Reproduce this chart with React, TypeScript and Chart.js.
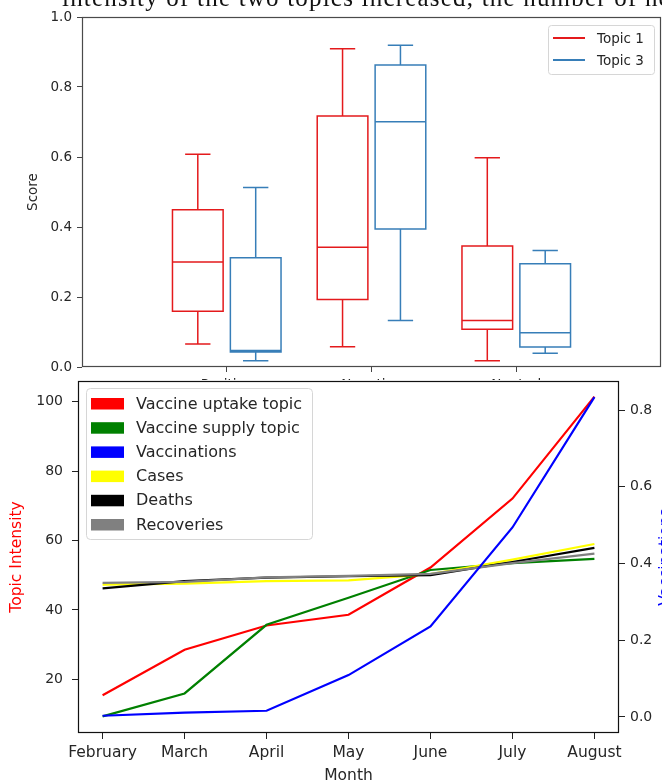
import React, { useEffect, useRef } from "react";
import { Chart, registerables } from "chart.js";

Chart.register(...registerables);

// ---- Box plot: topic scores per sentiment ----
const sentimentLabels = ["Positive", "Negative", "Neutral"];
const topic1Min = [0.066, 0.058, 0.018];
const topic1Q1 = [0.159, 0.193, 0.108];
const topic1Median = [0.3, 0.342, 0.133];
const topic1Q3 = [0.449, 0.717, 0.346];
const topic1Max = [0.608, 0.909, 0.598];
const topic3Min = [0.018, 0.133, 0.039];
const topic3Q1 = [0.043, 0.394, 0.057];
const topic3Median = [0.047, 0.701, 0.098];
const topic3Q3 = [0.312, 0.863, 0.295];
const topic3Max = [0.513, 0.919, 0.333];
const scoreTicks = [0, 0.2, 0.4, 0.6, 0.8, 1.0];

// ---- Line chart: monthly topic intensity vs. pandemic figures ----
const months = ["February", "March", "April", "May", "June", "July", "August"];
const vaccineUptakeTopic = [15.4, 28.5, 35.5, 38.6, 52.2, 72.1, 101.5];
const vaccineSupplyTopic = [9.3, 15.9, 35.7, 43.5, 51.5, 53.5, 54.7];
const vaccinations = [0.003, 0.011, 0.016, 0.109, 0.236, 0.494, 0.834];
const cases = [47.3, 47.6, 48.3, 48.5, 50.3, 54.5, 59.0];
const deaths = [46.2, 48.3, 49.3, 49.7, 50.0, 53.8, 57.9];
const recoveries = [47.8, 48.1, 49.4, 49.8, 50.4, 53.5, 56.2];
const intensityTicks = [20, 40, 60, 80, 100];
const vaccinationTicks = [0, 0.2, 0.4, 0.6, 0.8];

const FONT = "'DejaVu Sans', sans-serif";
const TEXT = "#262626";

const boxSeries = [
  { label: "Topic 1", color: "#e41a1c", offset: -0.2, min: topic1Min, q1: topic1Q1, med: topic1Median, q3: topic1Q3, max: topic1Max },
  { label: "Topic 3", color: "#377eb8", offset: 0.2, min: topic3Min, q1: topic3Q1, med: topic3Median, q3: topic3Q3, max: topic3Max },
];
const BOX_HALF = 0.175;

const lineSeries = [
  { label: "Vaccine uptake topic", color: "#ff0000", values: vaccineUptakeTopic, axis: "y", order: 5 },
  { label: "Vaccine supply topic", color: "#008000", values: vaccineSupplyTopic, axis: "y", order: 4 },
  { label: "Vaccinations", color: "#0000ff", values: vaccinations, axis: "y1", order: 0 },
  { label: "Cases", color: "#ffff00", values: cases, axis: "y", order: 3 },
  { label: "Deaths", color: "#000000", values: deaths, axis: "y", order: 2 },
  { label: "Recoveries", color: "#808080", values: recoveries, axis: "y", order: 1 },
];

// fixed axis sizes, without the extra room Chart.js reserves for edge labels
const fixSize = (size: { width?: number; height?: number }) => (s: any) => {
  if (size.width !== undefined) s.width = size.width;
  if (size.height !== undefined) s.height = size.height;
  s.paddingTop = 0;
  s.paddingBottom = 0;
  s.paddingLeft = 0;
  s.paddingRight = 0;
};

function roundRect(ctx: CanvasRenderingContext2D, x: number, y: number, w: number, h: number, r: number) {
  ctx.beginPath();
  ctx.moveTo(x + r, y);
  ctx.lineTo(x + w - r, y);
  ctx.quadraticCurveTo(x + w, y, x + w, y + r);
  ctx.lineTo(x + w, y + h - r);
  ctx.quadraticCurveTo(x + w, y + h, x + w - r, y + h);
  ctx.lineTo(x + r, y + h);
  ctx.quadraticCurveTo(x, y + h, x, y + h - r);
  ctx.lineTo(x, y + r);
  ctx.quadraticCurveTo(x, y, x + r, y);
  ctx.closePath();
}

const framePlugin = (color: string) => ({
  id: "frame",
  afterDraw(chart: any) {
    const { ctx, chartArea: a } = chart;
    ctx.save();
    ctx.strokeStyle = color;
    ctx.lineWidth = 1.2;
    ctx.strokeRect(Math.round(a.left) + 0.5, Math.round(a.top) + 0.5, Math.round(a.right - a.left) - 1, Math.round(a.bottom - a.top) - 1);
    ctx.restore();
  },
});

const boxPlugin = {
  id: "boxes",
  afterDatasetsDraw(chart: any) {
    const { ctx, scales } = chart;
    const x = scales.x;
    const y = scales.y;
    ctx.save();
    ctx.lineWidth = 1.5;
    boxSeries.forEach((s) => {
      ctx.strokeStyle = s.color;
      s.q1.forEach((_, i) => {
        const c = i + 1 + s.offset;
        const xl = x.getPixelForValue(c - BOX_HALF);
        const xr = x.getPixelForValue(c + BOX_HALF);
        const xc = x.getPixelForValue(c);
        const cl = x.getPixelForValue(c - BOX_HALF / 2);
        const cr = x.getPixelForValue(c + BOX_HALF / 2);
        const yMin = y.getPixelForValue(s.min[i]);
        const yQ1 = y.getPixelForValue(s.q1[i]);
        const yMed = y.getPixelForValue(s.med[i]);
        const yQ3 = y.getPixelForValue(s.q3[i]);
        const yMax = y.getPixelForValue(s.max[i]);
        ctx.beginPath();
        ctx.rect(xl, yQ3, xr - xl, yQ1 - yQ3);
        ctx.moveTo(xl, yMed);
        ctx.lineTo(xr, yMed);
        ctx.moveTo(xc, yQ3);
        ctx.lineTo(xc, yMax);
        ctx.moveTo(xc, yQ1);
        ctx.lineTo(xc, yMin);
        ctx.moveTo(cl, yMax);
        ctx.lineTo(cr, yMax);
        ctx.moveTo(cl, yMin);
        ctx.lineTo(cr, yMin);
        ctx.stroke();
      });
    });

    // legend, upper right
    const a = chart.chartArea;
    const lx = a.right - 113;
    const ly = a.top + 8;
    roundRect(ctx, lx + 0.5, ly + 0.5, 106, 49, 3);
    ctx.fillStyle = "rgba(255,255,255,0.85)";
    ctx.fill();
    ctx.strokeStyle = "#d6d6d6";
    ctx.lineWidth = 1;
    ctx.stroke();
    ctx.font = `13.5px ${FONT}`;
    ctx.textBaseline = "middle";
    ctx.textAlign = "left";
    boxSeries.forEach((s, k) => {
      const yy = ly + 13 + k * 22;
      ctx.strokeStyle = s.color;
      ctx.lineWidth = 2;
      ctx.beginPath();
      ctx.moveTo(lx + 5, yy);
      ctx.lineTo(lx + 37, yy);
      ctx.stroke();
      ctx.fillStyle = TEXT;
      ctx.fillText(s.label, lx + 49, yy + 1);
    });
    ctx.restore();
  },
};

const lineLegendPlugin = {
  id: "lineLegend",
  afterDraw(chart: any) {
    const { ctx, chartArea: a } = chart;
    ctx.save();
    const lx = a.left + 8;
    const ly = a.top + 7;
    roundRect(ctx, lx + 0.5, ly + 0.5, 226, 151, 4);
    ctx.fillStyle = "rgba(255,255,255,0.85)";
    ctx.fill();
    ctx.strokeStyle = "#d6d6d6";
    ctx.lineWidth = 1;
    ctx.stroke();
    ctx.font = `16px ${FONT}`;
    ctx.textBaseline = "middle";
    ctx.textAlign = "left";
    lineSeries.forEach((s, k) => {
      const yy = ly + 15.5 + k * 24.2;
      ctx.fillStyle = s.color;
      ctx.fillRect(lx + 5, yy - 5.5, 33, 11.5);
      ctx.fillStyle = TEXT;
      ctx.fillText(s.label, lx + 50, yy + 1);
    });

    // right-hand axis title
    const y1 = chart.scales.y1;
    ctx.translate(670, (y1.top + y1.bottom) / 2);
    ctx.rotate(-Math.PI / 2);
    ctx.textAlign = "center";
    ctx.textBaseline = "alphabetic";
    ctx.font = `15.5px ${FONT}`;
    ctx.fillStyle = "#0000ff";
    ctx.fillText("Vaccinations", 0, 0);
    ctx.restore();
  },
};

function BoxChart() {
  const ref = useRef<HTMLCanvasElement>(null);
  useEffect(() => {
    const tickFont = { family: FONT, size: 13.5 };
    const chart = new Chart(ref.current!, {
      type: "scatter",
      data: { datasets: [] },
      options: {
        animation: false,
        responsive: false,
        devicePixelRatio: 1,
        layout: { autoPadding: false, padding: { top: 17, right: 1, left: 0, bottom: 0 } },
        plugins: { legend: { display: false }, tooltip: { enabled: false } },
        scales: {
          x: {
            type: "linear",
            min: 0,
            max: 4,
            afterBuildTicks: (s: any) => {
              s.ticks = sentimentLabels.map((_, i) => ({ value: i + 1 }));
            },
            afterFit: fixSize({ height: 33 }),
            ticks: {
              callback: (v: any) => sentimentLabels[Number(v) - 1] ?? "",
              font: tickFont,
              color: TEXT,
              padding: 5,
              maxRotation: 0,
              autoSkip: false,
            },
            grid: { display: true, drawOnChartArea: false, tickLength: 5, tickColor: "#444" },
            border: { display: false },
          },
          y: {
            min: 0,
            max: 1,
            afterBuildTicks: (s: any) => {
              s.ticks = scoreTicks.map((v) => ({ value: v }));
            },
            afterFit: fixSize({ width: 82 }),
            ticks: { callback: (v: any) => Number(v).toFixed(1), font: tickFont, color: TEXT, padding: 5 },
            grid: { display: true, drawOnChartArea: false, tickLength: 5, tickColor: "#444" },
            border: { display: false },
            title: { display: true, text: "Score", font: tickFont, color: TEXT, padding: { top: 25, bottom: 0 } },
          },
        },
      },
      plugins: [boxPlugin, framePlugin("#4a4a4a")],
    } as any);
    return () => chart.destroy();
  }, []);
  return <canvas ref={ref} width={662} height={400} style={{ display: "block" }} />;
}

function TrendChart() {
  const ref = useRef<HTMLCanvasElement>(null);
  useEffect(() => {
    const yFont = { family: FONT, size: 14 };
    const xFont = { family: FONT, size: 15.5 };
    const chart = new Chart(ref.current!, {
      type: "scatter",
      data: {
        datasets: lineSeries.map((s) => ({
          label: s.label,
          data: s.values.map((v, i) => ({ x: i, y: v })),
          borderColor: s.color,
          backgroundColor: s.color,
          borderWidth: 2.2,
          showLine: true,
          pointRadius: 0,
          tension: 0,
          yAxisID: s.axis,
          order: s.order,
        })),
      },
      options: {
        animation: false,
        responsive: false,
        devicePixelRatio: 1,
        layout: { autoPadding: false, padding: { top: 1, right: 0, left: 0, bottom: 0 } },
        plugins: { legend: { display: false }, tooltip: { enabled: false } },
        scales: {
          x: {
            type: "linear",
            min: -0.3,
            max: 6.3,
            afterBuildTicks: (s: any) => {
              s.ticks = months.map((_, i) => ({ value: i }));
            },
            afterFit: fixSize({ height: 52 }),
            ticks: {
              callback: (v: any) => months[Number(v)] ?? "",
              font: xFont,
              color: TEXT,
              padding: 5,
              maxRotation: 0,
              autoSkip: false,
            },
            grid: { display: true, drawOnChartArea: false, tickLength: 6, tickColor: "#222" },
            border: { display: false },
            title: { display: true, text: "Month", font: xFont, color: TEXT, padding: { top: 0, bottom: 0 } },
          },
          y: {
            position: "left",
            min: 4.5,
            max: 106,
            afterBuildTicks: (s: any) => {
              s.ticks = intensityTicks.map((v) => ({ value: v }));
            },
            afterFit: fixSize({ width: 78 }),
            ticks: { font: yFont, color: TEXT, padding: 9 },
            grid: { display: true, drawOnChartArea: false, tickLength: 6, tickColor: "#222" },
            border: { display: false },
            title: { display: true, text: "Topic Intensity", font: xFont, color: "#ff0000", padding: { top: 8, bottom: 0 } },
          },
          y1: {
            position: "right",
            min: -0.042,
            max: 0.876,
            afterBuildTicks: (s: any) => {
              s.ticks = vaccinationTicks.map((v) => ({ value: v }));
            },
            afterFit: fixSize({ width: 43 }),
            ticks: { callback: (v: any) => Number(v).toFixed(1), font: yFont, color: TEXT, padding: 5 },
            grid: { display: true, drawOnChartArea: false, tickLength: 6, tickColor: "#222" },
            border: { display: false },
          },
        },
      },
      plugins: [framePlugin("#111"), lineLegendPlugin],
    } as any);
    return () => chart.destroy();
  }, []);
  return <canvas ref={ref} width={662} height={405} style={{ display: "block" }} />;
}

export default function App() {
  return (
    <div style={{ position: "absolute", left: 0, top: 0, width: 662, height: 780, overflow: "hidden", background: "#fff" }}>
      <div style={{ position: "absolute", left: 0, top: 0, width: 662, height: 380, overflow: "hidden" }}>
        <BoxChart />
      </div>
      <div
        style={{
          position: "absolute",
          left: 62,
          top: -15,
          fontFamily: "'Liberation Serif', serif",
          fontSize: 25,
          letterSpacing: "1.2px",
          lineHeight: "25px",
          whiteSpace: "nowrap",
          color: "#111",
        }}
      >
        intensity of the two topics increased, the number of new
      </div>
      <div style={{ position: "absolute", left: 0, top: 380, width: 662, height: 400, overflow: "hidden", background: "#fff" }}>
        <TrendChart />
      </div>
    </div>
  );
}
